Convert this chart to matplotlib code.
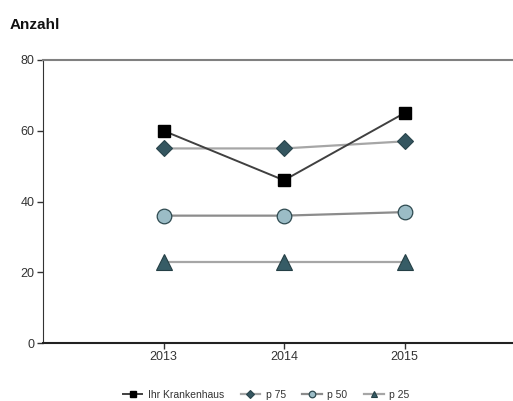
import matplotlib
matplotlib.use("Agg")
import matplotlib.pyplot as plt

years = [2013, 2014, 2015]
ihr = [60, 46, 65]
p75 = [55, 55, 57]
p50 = [36, 36, 37]
p25 = [23, 23, 23]
yticks = [0, 20, 40, 60, 80]

plt.rcParams['font.family'] = ['Liberation Sans', 'DejaVu Sans']

fig = plt.figure(figsize=(5.13, 4.01), dpi=100)
ax = fig.add_axes([43/513, 1-343/401, 1-43/513, (343-60)/401])

ax.plot(years, p75, color='#a6a6a6', lw=1.6, marker='D', ms=8.5, mfc='#355660', mec='#2a454c', mew=0.8, label='p 75', zorder=3)
ax.plot(years, p50, color='#8c8c8c', lw=1.6, marker='o', ms=10.5, mfc='#9bbcc6', mec='#2e4a50', mew=0.9, label='p 50', zorder=3)
ax.plot(years, p25, color='#a6a6a6', lw=1.6, marker='^', ms=11, mfc='#365c66', mec='#243f45', mew=0.8, label='p 25', zorder=3)
ax.plot(years, ihr, color='#404040', lw=1.4, marker='s', ms=9, mfc='black', mec='black', label='Ihr Krankenhaus', zorder=4)

ax.set_xlim(2012.0, 2015.9)
ax.set_ylim(0, 80)
ax.set_yticks(yticks)
ax.set_xticks(years)
ax.tick_params(axis='both', direction='out', length=4, width=1, colors='#333333', labelsize=9, pad=2, labelcolor='#333333')
ax.spines['right'].set_visible(False)
ax.spines['top'].set_color('#808080')
ax.spines['top'].set_linewidth(1.5)
ax.spines['left'].set_color('#333333')
ax.spines['bottom'].set_color('#222222')
ax.spines['bottom'].set_linewidth(1.5)

fig.text(10/513, 1-25/401, 'Anzahl', fontsize=11, fontweight='bold', color='#111111', va='center', ha='left')

h, l = ax.get_legend_handles_labels()
order = [3, 0, 1, 2]
leg = fig.legend([h[i] for i in order], [l[i] for i in order], loc='center', bbox_to_anchor=(266/513, 1-395/401),
                 ncol=4, frameon=False, fontsize=7.5, markerscale=0.45, handlelength=1.9,
                 columnspacing=1.6, handletextpad=0.5, labelcolor='#333333')

fig.savefig('out.png', dpi=100)
